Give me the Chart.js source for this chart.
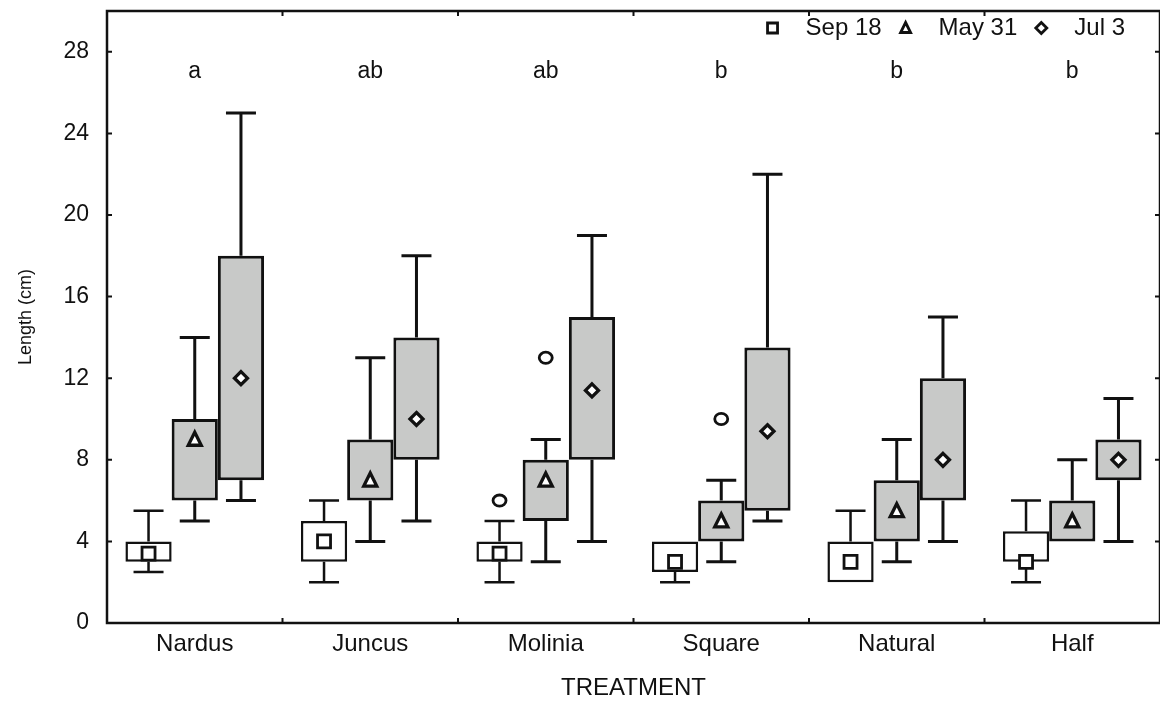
<!DOCTYPE html>
<html lang="en">
<head>
  <meta charset="UTF-8">
  <title>Length by treatment</title>
  <style>
    body {
      margin: 0;
      background: #fff;
    }
    #wrap {
      width: 1160px;
      height: 711px;
      position: relative;
    }
  </style>
</head>
<body>
  <div id="wrap"><canvas id="chart"></canvas></div>

  <script src="https://cdn.jsdelivr.net/npm/chart.js"></script>
  <script>
    const categories = ['Nardus', 'Juncus', 'Molinia', 'Square', 'Natural', 'Half'];
    const seriesNames = ['Sep 18', 'May 31', 'Jul 3'];
    const groupLetters = ['a', 'ab', 'ab', 'b', 'b', 'b'];
    const yTicks = [0, 4, 8, 12, 16, 20, 24, 28];

    // Sep 18
    const sepMin = [2.5, 2, 2, 2, 2, 2];
    const sepQ1  = [3, 3, 3, 2.5, 2, 3];
    const sepMed = [3.4, 4, 3.4, 3, 3, 3];
    const sepQ3  = [4, 5, 4, 4, 4, 4.5];
    const sepMax = [5.5, 6, 5, 4, 5.5, 6];
    const sepOut = [[], [], [6], [], [], []];

    // May 31
    const mayMin = [5, 4, 3, 3, 3, 4];
    const mayQ1  = [6, 6, 5, 4, 4, 4];
    const mayMed = [9, 7, 7, 5, 5.5, 5];
    const mayQ3  = [10, 9, 8, 6, 7, 6];
    const mayMax = [14, 13, 9, 7, 9, 8];
    const mayOut = [[], [], [13], [10], [], []];

    // Jul 3
    const julMin = [6, 5, 4, 5, 4, 4];
    const julQ1  = [7, 8, 8, 5.5, 6, 7];
    const julMed = [12, 10, 11.4, 9.4, 8, 8];
    const julQ3  = [18, 14, 15, 13.5, 12, 9];
    const julMax = [25, 18, 19, 22, 15, 11];
    const julOut = [[], [], [], [], [], []];

    const series = [
      { min: sepMin, q1: sepQ1, med: sepMed, q3: sepQ3, max: sepMax, out: sepOut, shape: 'square', fill: '#ffffff', lw: 2.5 },
      { min: mayMin, q1: mayQ1, med: mayMed, q3: mayQ3, max: mayMax, out: mayOut, shape: 'triangle', fill: '#c8c9c8', lw: 3 },
      { min: julMin, q1: julQ1, med: julMed, q3: julQ3, max: julMax, out: julOut, shape: 'diamond', fill: '#c8c9c8', lw: 3 }
    ];

    const FONT = '"Liberation Sans", Arial, sans-serif';
    const INK = '#111';

    function marker(ctx, shape, x, y, s) {
      ctx.beginPath();
      if (shape === 'square') {
        ctx.rect(x - s / 2, y - s / 2, s, s);
      } else if (shape === 'triangle') {
        ctx.moveTo(x, y - s * 0.55);
        ctx.lineTo(x + s / 2, y + s * 0.45);
        ctx.lineTo(x - s / 2, y + s * 0.45);
        ctx.closePath();
      } else if (shape === 'diamond') {
        ctx.moveTo(x, y - s / 2);
        ctx.lineTo(x + s / 2, y);
        ctx.lineTo(x, y + s / 2);
        ctx.lineTo(x - s / 2, y);
        ctx.closePath();
      } else {
        ctx.ellipse(x, y, s / 2, s * 0.43, 0, 0, Math.PI * 2);
      }
      ctx.fillStyle = '#fff';
      ctx.fill();
      ctx.stroke();
    }

    function whisker(ctx, x, from, to, cap) {
      if (Math.abs(from - to) < 0.5) return;
      ctx.beginPath();
      ctx.moveTo(x, from);
      ctx.lineTo(x, to);
      ctx.moveTo(x - cap / 2, to);
      ctx.lineTo(x + cap / 2, to);
      ctx.stroke();
    }

    const boxExtras = {
      id: 'boxExtras',
      beforeDatasetsDraw(chart) {
        const ctx = chart.ctx, y = chart.scales.y;
        ctx.save();
        ctx.strokeStyle = INK;
        series.forEach((s, d) => {
          ctx.lineWidth = s.lw;
          chart.getDatasetMeta(d).data.forEach((bar, i) => {
            whisker(ctx, bar.x, y.getPixelForValue(s.q3[i]), y.getPixelForValue(s.max[i]), 30);
            whisker(ctx, bar.x, y.getPixelForValue(s.q1[i]), y.getPixelForValue(s.min[i]), 30);
          });
        });
        ctx.restore();
      },
      afterDatasetsDraw(chart) {
        const ctx = chart.ctx, y = chart.scales.y;
        ctx.save();
        ctx.strokeStyle = INK;
        ctx.lineJoin = 'miter';
        series.forEach((s, d) => {
          chart.getDatasetMeta(d).data.forEach((bar, i) => {
            ctx.lineWidth = s.shape === 'square' ? 2.8 : 3.3;
            marker(ctx, s.shape, bar.x, y.getPixelForValue(s.med[i]), 13);
            ctx.lineWidth = 2.8;
            s.out[i].forEach(v => marker(ctx, 'circle', bar.x, y.getPixelForValue(v), 13));
          });
        });
        ctx.restore();
      },
      afterDraw(chart) {
        const ctx = chart.ctx, a = chart.chartArea;
        const x = chart.scales.x, y = chart.scales.y;
        ctx.save();
        ctx.strokeStyle = INK;
        ctx.lineWidth = 2.5;
        ctx.strokeRect(a.left, a.top, a.right - a.left, a.bottom - a.top);

        // inward tick marks on all four sides
        ctx.lineWidth = 2;
        ctx.beginPath();
        yTicks.forEach(v => {
          const py = y.getPixelForValue(v);
          ctx.moveTo(a.left, py); ctx.lineTo(a.left + 5, py);
          ctx.moveTo(a.right, py); ctx.lineTo(a.right - 5, py);
        });
        for (let i = 0; i < categories.length - 1; i++) {
          const px = (x.getPixelForValue(i) + x.getPixelForValue(i + 1)) / 2;
          ctx.moveTo(px, a.bottom); ctx.lineTo(px, a.bottom - 5);
          ctx.moveTo(px, a.top); ctx.lineTo(px, a.top + 5);
        }
        ctx.stroke();

        // group letters
        ctx.fillStyle = INK;
        ctx.font = '23px ' + FONT;
        ctx.textAlign = 'center';
        ctx.textBaseline = 'middle';
        groupLetters.forEach((t, i) => {
          ctx.fillText(t, x.getPixelForValue(i), y.getPixelForValue(27.05));
        });

        // legend, right aligned inside the frame
        ctx.font = '24px ' + FONT;
        const ly = a.top + 17;
        const toText = 33, toNext = 24;
        const widths = seriesNames.map(n => ctx.measureText(n).width);
        let total = 0;
        widths.forEach((w, i) => { total += toText + w + (i < widths.length - 1 ? toNext : 0); });
        let lx = a.right - 35 - total;
        ctx.textAlign = 'left';
        seriesNames.forEach((n, i) => {
          ctx.lineWidth = 2.8;
          marker(ctx, series[i].shape, lx, ly, i === 2 ? 11 : 10);
          ctx.fillStyle = INK;
          ctx.fillText(n, lx + toText, ly);
          lx += toText + widths[i] + toNext;
        });
        ctx.restore();
      }
    };

    new Chart(document.getElementById('chart'), {
      type: 'bar',
      data: {
        labels: categories,
        datasets: series.map((s, d) => ({
          label: seriesNames[d],
          data: s.q1.map((v, i) => [v, s.q3[i]]),
          backgroundColor: s.fill,
          borderColor: INK,
          borderWidth: s.lw,
          borderSkipped: false,
          categoryPercentage: 0.79,
          barPercentage: 1.0
        }))
      },
      options: {
        responsive: true,
        maintainAspectRatio: false,
        animation: false,
        layout: { padding: { top: 11, right: 0, left: 0, bottom: 0 } },
        plugins: {
          legend: { display: false },
          tooltip: { enabled: false }
        },
        scales: {
          x: {
            grid: { display: false, drawTicks: false },
            border: { display: false },
            ticks: {
              color: INK,
              font: { family: FONT, size: 24 },
              padding: 7,
              maxRotation: 0,
              autoSkip: false
            },
            title: {
              display: true,
              text: 'TREATMENT',
              color: INK,
              font: { family: FONT, size: 24 },
              padding: { top: 0, bottom: 8 }
            },
            afterFit(scale) { scale.height = 88; }
          },
          y: {
            min: 0,
            max: 30,
            grid: { display: false, drawTicks: false },
            border: { display: false },
            afterBuildTicks(scale) { scale.ticks = yTicks.map(v => ({ value: v })); },
            ticks: {
              color: INK,
              font: { family: FONT, size: 23 },
              padding: 18
            },
            title: {
              display: true,
              text: 'Length (cm)',
              color: INK,
              font: { family: FONT, size: 18 },
              padding: { top: 15, bottom: 0 }
            },
            afterFit(scale) {
              scale.width = 107;
              scale.paddingTop = 0;
              scale.paddingBottom = 0;
            }
          }
        }
      },
      plugins: [boxExtras]
    });
  </script>
</body>
</html>
